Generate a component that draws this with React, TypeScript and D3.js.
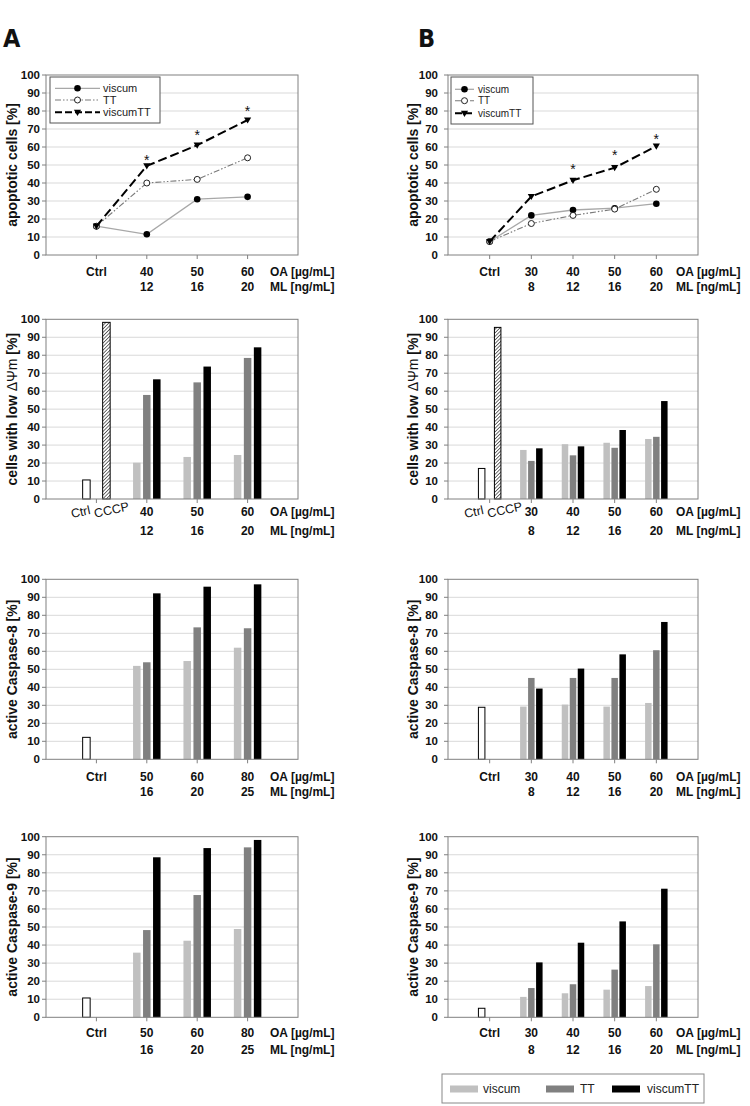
import React from 'react';
import * as d3 from 'd3';

// ---------- DATA ----------
const catsA = ['Ctrl', '40', '50', '60'];
const mlA = ['', '12', '16', '20'];
const catsA34 = ['Ctrl', '50', '60', '80'];
const mlA34 = ['', '16', '20', '25'];
const catsB = ['Ctrl', '30', '40', '50', '60'];
const mlB = ['', '8', '12', '16', '20'];

// Row 1: apoptotic cells (lines)
const apoA_viscum = [16, 11.5, 31, 32.3];
const apoA_TT = [16, 40, 42, 54];
const apoA_viscumTT = [16, 49.5, 61, 75];
const apoA_star = [null, 54, 68, 81];
const apoB_viscum = [7.5, 22, 25, 26, 28.5];
const apoB_TT = [7.5, 17.5, 22, 25.5, 36.5];
const apoB_viscumTT = [7.5, 32.5, 41.5, 48.5, 60.5];
const apoB_star = [null, null, 48.7, 56.5, 65.7];

// Row 2: low ΔΨm
const mmpA_ctrl = 10.6, mmpA_cccp = 98.3;
const mmpA_viscum = [20.2, 23.4, 24.5];
const mmpA_TT = [57.9, 64.9, 78.5];
const mmpA_viscumTT = [66.6, 73.7, 84.4];
const mmpB_ctrl = 17, mmpB_cccp = 95.5;
const mmpB_viscum = [27.3, 30.5, 31.3, 33.4];
const mmpB_TT = [21.2, 24.3, 28.5, 34.6];
const mmpB_viscumTT = [28.2, 29.3, 38.4, 54.5];

// Row 3: Caspase-8
const c8A_ctrl = 12.2;
const c8A_viscum = [51.9, 54.6, 62];
const c8A_TT = [53.9, 73.3, 72.8];
const c8A_viscumTT = [92.2, 95.9, 97.2];
const c8B_ctrl = 28.9;
const c8B_viscum = [29.3, 30.4, 29.3, 31.3];
const c8B_TT = [45.2, 45.2, 45.2, 60.6];
const c8B_viscumTT = [39.3, 50.4, 58.3, 76.3];

// Row 4: Caspase-9
const c9A_ctrl = 10.7;
const c9A_viscum = [35.8, 42.4, 48.9];
const c9A_TT = [48.3, 67.7, 94.1];
const c9A_viscumTT = [88.6, 93.7, 98.2];
const c9B_ctrl = 5;
const c9B_viscum = [11.3, 13.3, 15.3, 17.3];
const c9B_TT = [16.2, 18.3, 26.4, 40.4];
const c9B_viscumTT = [30.4, 41.3, 53.1, 71.2];

const yTicks = [0, 10, 20, 30, 40, 50, 60, 70, 80, 90, 100];
const seriesNames = ['viscum', 'TT', 'viscumTT'];
const barColors = ['#c0c0c0', '#808080', '#000000'];

const FONT = '"Liberation Sans", Arial, Helvetica, sans-serif';

// ---------- LAYOUT ----------
const colA = { left: 46, right: 298, tickEnd: 40, titleX: 12, oaX: 270, mlX: 270, slot: 10, bw: 7.5 };
const colB = { left: 448, right: 698, tickEnd: 438, titleX: 413, oaX: 676, mlX: 676, slot: 8, bw: 6.5 };
const rows = [
  { top: 75, bottom: 255, oaY: 272, mlY: 287 },
  { top: 319.3, bottom: 499, oaY: 512, mlY: 531 },
  { top: 579.3, bottom: 759.3, oaY: 776.5, mlY: 791.5 },
  { top: 836.7, bottom: 1017.3, oaY: 1033, mlY: 1050 },
];

type PanelProps = {
  col: any; row: any; cats: string[]; ml: string[]; title: React.ReactNode;
  rotatedCtrl?: boolean; children: (x: d3.ScalePoint<string>, y: d3.ScaleLinear<number, number>) => React.ReactNode;
};

function Panel({ col, row, cats, ml, title, rotatedCtrl, children }: PanelProps) {
  const x = d3.scalePoint<string>().domain(cats).range([col.left, col.right]).padding(1);
  const y = d3.scaleLinear().domain([0, 100]).range([row.bottom, row.top]);
  const midY = (row.top + row.bottom) / 2;
  return (
    <g>
      {yTicks.map((t) => (
        <g key={t}>
          {t > 0 && t < 100 && (
            <line x1={col.left} x2={col.right} y1={y(t)} y2={y(t)} stroke="#d9d9d9" strokeWidth={1} />
          )}
          <line x1={col.left - 4} x2={col.left} y1={y(t)} y2={y(t)} stroke="#808080" />
          <text x={col.tickEnd} y={y(t)} dy="0.35em" textAnchor="end" fontSize={11.5} fontWeight="bold" fontFamily={FONT} fill="#111">
            {t}
          </text>
        </g>
      ))}
      {children(x, y)}
      <rect x={col.left} y={row.top} width={col.right - col.left} height={row.bottom - row.top} fill="none" stroke="#808080" strokeWidth={1} />
      {cats.map((c) => (
        <line key={'tk' + c} x1={x(c)} x2={x(c)} y1={row.bottom} y2={row.bottom + 4} stroke="#808080" />
      ))}
      <text transform={`translate(${col.titleX},${midY}) rotate(-90)`} textAnchor="middle" dy="0.35em" fontSize={14} fontWeight="bold" fontFamily={FONT} fill="#111">
        {title}
      </text>
      {cats.map((c) =>
        c === 'Ctrl' && rotatedCtrl ? (
          <g key={'lab' + c}>
            <text transform={`translate(${(x(c) as number) - 15},${row.oaY + 4}) rotate(-12)`} textAnchor="middle" fontSize={12.5} fontFamily={FONT} fill="#111">Ctrl</text>
            <text transform={`translate(${(x(c) as number) + 16},${row.oaY + 2}) rotate(-12)`} textAnchor="middle" fontSize={12.5} fontFamily={FONT} fill="#111">CCCP</text>
          </g>
        ) : (
          <text key={'lab' + c} x={x(c)} y={row.oaY} dy="0.35em" textAnchor="middle" fontSize={12} fontWeight="bold" fontFamily={FONT} fill="#111">
            {c}
          </text>
        )
      )}
      <text x={col.oaX} y={row.oaY} dy="0.35em" fontSize={12} fontWeight="bold" fontFamily={FONT} fill="#111">OA [µg/mL]</text>
      {cats.map((c, i) => (
        <text key={'ml' + c} x={x(c)} y={row.mlY} dy="0.35em" textAnchor="middle" fontSize={12} fontWeight="bold" fontFamily={FONT} fill="#111">
          {ml[i]}
        </text>
      ))}
      <text x={col.mlX} y={row.mlY} dy="0.35em" fontSize={12} fontWeight="bold" fontFamily={FONT} fill="#111">ML [ng/mL]</text>
    </g>
  );
}

const triPath = 'M-3.6,-2.6L3.6,-2.6L0,3.6Z';

function Marker({ kind, cx, cy }: { kind: number; cx: number; cy: number }) {
  if (kind === 0) return <circle cx={cx} cy={cy} r={3.3} fill="#000" />;
  if (kind === 1) return <circle cx={cx} cy={cy} r={3} fill="#fff" stroke="#222" strokeWidth={1} />;
  return <path d={triPath} transform={`translate(${cx},${cy})`} fill="#000" />;
}

const lineStyles = [
  { stroke: '#a8a8a8', width: 1.3, dash: undefined as string | undefined },
  { stroke: '#7a7a7a', width: 1.1, dash: '6,2,1.5,2,1.5,2' },
  { stroke: '#000', width: 2, dash: '9,4' },
];

function LinesContent({ x, y, cats, series, stars }: any) {
  const gen = d3.line<number>().x((_, i) => x(cats[i]) as number).y((d) => y(d));
  return (
    <g>
      {series.map((s: number[], k: number) => (
        <path key={k} d={gen(s) || ''} fill="none" stroke={lineStyles[k].stroke} strokeWidth={lineStyles[k].width} strokeDasharray={lineStyles[k].dash} />
      ))}
      {series.map((s: number[], k: number) =>
        s.map((v, i) => <Marker key={k + '-' + i} kind={k} cx={x(cats[i]) as number} cy={y(v)} />)
      )}
      {stars.map((v: number | null, i: number) =>
        v == null ? null : (
          <text key={'st' + i} x={x(cats[i])} y={y(v) + 7} textAnchor="middle" fontSize={14} fontFamily={FONT} fill="#111">*</text>
        )
      )}
    </g>
  );
}

function LineLegend({ box, lx0, lx1, tx, ys, fs }: any) {
  return (
    <g>
      <rect x={box[0]} y={box[1]} width={box[2]} height={box[3]} fill="#fff" stroke="#555" strokeWidth={1} />
      {seriesNames.map((n, k) => (
        <g key={n}>
          <line x1={lx0} x2={lx1} y1={ys[k]} y2={ys[k]} stroke={k === 2 ? '#000' : lineStyles[k].stroke} strokeWidth={lineStyles[k].width} strokeDasharray={k === 2 ? '7,3' : lineStyles[k].dash} />
          <Marker kind={k} cx={(lx0 + lx1) / 2} cy={ys[k]} />
          <text x={tx} y={ys[k]} dy="0.35em" fontSize={fs} fontFamily={FONT} fill="#222">{n}</text>
        </g>
      ))}
    </g>
  );
}

function BarsContent({ x, y, cats, col, ctrl, cccp, groups }: any) {
  const x0 = x(cats[0]) as number;
  const base = y(0);
  return (
    <g>
      <rect x={x0 - col.slot - col.bw / 2} y={y(ctrl)} width={col.bw} height={base - y(ctrl)} fill="#fff" stroke="#000" strokeWidth={1} />
      {cccp != null && (
        <rect x={x0 + col.slot - col.bw / 2} y={y(cccp)} width={col.bw} height={base - y(cccp)} fill="url(#hatch)" stroke="#000" strokeWidth={1} />
      )}
      {groups.map((vals: number[], k: number) =>
        vals.map((v, i) => {
          const cx = (x(cats[i + 1]) as number) + (k - 1) * col.slot;
          return <rect key={k + '-' + i} x={cx - col.bw / 2} y={y(v)} width={col.bw} height={base - y(v)} fill={barColors[k]} />;
        })
      )}
    </g>
  );
}

const mmpTitle = (
  <>
    cells with low <tspan fontWeight="normal">ΔΨm</tspan> [%]
  </>
);

export default function App() {
  return (
    <svg width={750} height={1106} style={{ position: 'absolute', left: 0, top: 0, background: '#fff' }} fontFamily={FONT}>
      <defs>
        <pattern id="hatch" patternUnits="userSpaceOnUse" width={2.5} height={2.5} patternTransform="rotate(45)">
          <rect width={2.5} height={2.5} fill="#fff" />
          <line x1={0} y1={0} x2={0} y2={2.5} stroke="#333" strokeWidth={1.4} />
        </pattern>
      </defs>
      <rect width={750} height={1106} fill="#fff" />
      <text x={3} y={47} fontSize={25} fontWeight="bold" fontFamily='"DejaVu Sans Condensed", "Liberation Sans Narrow", Arial, sans-serif' fill="#111">A</text>
      <text x={418} y={47} fontSize={25} fontWeight="bold" fontFamily='"DejaVu Sans Condensed", "Liberation Sans Narrow", Arial, sans-serif' fill="#111">B</text>

      {/* Row 1 */}
      <Panel col={colA} row={rows[0]} cats={catsA} ml={mlA} title="apoptotic cells [%]">
        {(x, y) => <LinesContent x={x} y={y} cats={catsA} series={[apoA_viscum, apoA_TT, apoA_viscumTT]} stars={apoA_star} />}
      </Panel>
      <LineLegend box={[50, 77, 110, 46]} lx0={55} lx1={100} tx={103} ys={[88.3, 100, 112.3]} fs={11} />
      <Panel col={colB} row={rows[0]} cats={catsB} ml={mlB} title="apoptotic cells [%]">
        {(x, y) => <LinesContent x={x} y={y} cats={catsB} series={[apoB_viscum, apoB_TT, apoB_viscumTT]} stars={apoB_star} />}
      </Panel>
      <LineLegend box={[451, 77, 82, 47]} lx0={455} lx1={474} tx={478} ys={[89.3, 100.7, 113.3]} fs={10} />

      {/* Row 2 */}
      <Panel col={colA} row={rows[1]} cats={catsA} ml={mlA} title={mmpTitle} rotatedCtrl>
        {(x, y) => <BarsContent x={x} y={y} cats={catsA} col={colA} ctrl={mmpA_ctrl} cccp={mmpA_cccp} groups={[mmpA_viscum, mmpA_TT, mmpA_viscumTT]} />}
      </Panel>
      <Panel col={colB} row={rows[1]} cats={catsB} ml={mlB} title={mmpTitle} rotatedCtrl>
        {(x, y) => <BarsContent x={x} y={y} cats={catsB} col={colB} ctrl={mmpB_ctrl} cccp={mmpB_cccp} groups={[mmpB_viscum, mmpB_TT, mmpB_viscumTT]} />}
      </Panel>

      {/* Row 3 */}
      <Panel col={colA} row={rows[2]} cats={catsA34} ml={mlA34} title="active Caspase-8 [%]">
        {(x, y) => <BarsContent x={x} y={y} cats={catsA34} col={colA} ctrl={c8A_ctrl} cccp={null} groups={[c8A_viscum, c8A_TT, c8A_viscumTT]} />}
      </Panel>
      <Panel col={colB} row={rows[2]} cats={catsB} ml={mlB} title="active Caspase-8 [%]">
        {(x, y) => <BarsContent x={x} y={y} cats={catsB} col={colB} ctrl={c8B_ctrl} cccp={null} groups={[c8B_viscum, c8B_TT, c8B_viscumTT]} />}
      </Panel>

      {/* Row 4 */}
      <Panel col={colA} row={rows[3]} cats={catsA34} ml={mlA34} title="active Caspase-9 [%]">
        {(x, y) => <BarsContent x={x} y={y} cats={catsA34} col={colA} ctrl={c9A_ctrl} cccp={null} groups={[c9A_viscum, c9A_TT, c9A_viscumTT]} />}
      </Panel>
      <Panel col={colB} row={rows[3]} cats={catsB} ml={mlB} title="active Caspase-9 [%]">
        {(x, y) => <BarsContent x={x} y={y} cats={catsB} col={colB} ctrl={c9B_ctrl} cccp={null} groups={[c9B_viscum, c9B_TT, c9B_viscumTT]} />}
      </Panel>

      {/* Bottom legend */}
      <rect x={442} y={1074} width={262} height={29} fill="#fff" stroke="#888" strokeWidth={1} />
      {[
        { sx: 450, tx: 483 },
        { sx: 546, tx: 580 },
        { sx: 612, tx: 647 },
      ].map((p, k) => (
        <g key={k}>
          <rect x={p.sx} y={1085.5} width={28} height={7} fill={barColors[k]} />
          <text x={p.tx} y={1089} dy="0.35em" fontSize={12} fontFamily={FONT} fill="#222">{seriesNames[k]}</text>
        </g>
      ))}
    </svg>
  );
}
